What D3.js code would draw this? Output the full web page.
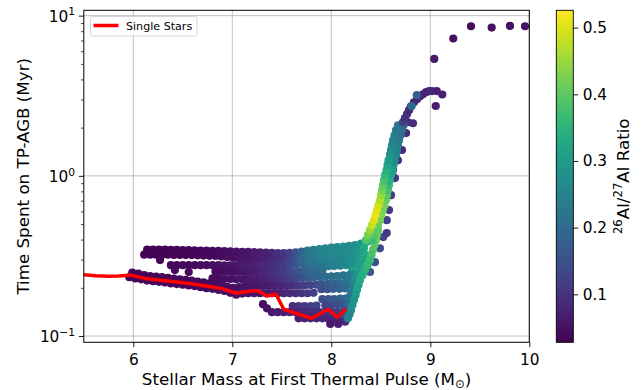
<!DOCTYPE html>
<html><head><meta charset="utf-8">
<script src="https://cdn.jsdelivr.net/npm/d3@7"></script>
<style>
body{margin:0;background:#fff;}
svg{display:block;font-family:"DejaVu Sans",sans-serif;}
</style>
</head><body>
<svg id="chart" width="644" height="390"></svg>
<script>
// ---- axis ticks ----
const xTicks = [6, 7, 8, 9, 10];
const yTicks = [0.1, 1, 10];
const yTickExponents = ["\u22121", "0", "1"];
const yMinorTicks = [0.2,0.3,0.4,0.5,0.6,0.7,0.8,0.9,2,3,4,5,6,7,8,9];
const colorTicks = [0.1, 0.2, 0.3, 0.4, 0.5];
const colorLimits = [0.028, 0.526];

// ---- single-star reference track: mass (Msun), TP-AGB time (Myr) ----
const singleStarMass = [5.50,5.62,5.75,5.85,5.97,6.12,6.30,6.57,6.88,7.04,7.13,7.26,7.35,7.44,7.52,7.80,7.97,8.06,8.15];
const singleStarTime = [0.241,0.238,0.236,0.237,0.240,0.229,0.222,0.213,0.199,0.185,0.189,0.192,0.178,0.183,0.147,0.129,0.147,0.131,0.148];

// ---- binary models: [mass at first TP, time on TP-AGB, 26Al/27Al] ----
const upperTrackTop = [[6.14,.346,.030],[6.20,.346,.030],[6.26,.346,.031],[6.32,.346,.031],[6.38,.345,.032],[6.44,.345,.032],[6.50,.344,.033],[6.56,.344,.034],[6.62,.343,.035],[6.68,.342,.036],[6.74,.341,.038],[6.80,.340,.040],[6.86,.340,.042],[6.92,.339,.045],[6.98,.338,.047],[7.04,.337,.051],[7.10,.336,.055],[7.16,.335,.059],[7.22,.334,.064],[7.28,.333,.069],[7.34,.332,.075],[7.40,.331,.082],[7.46,.330,.092],[7.52,.330,.105],[7.58,.331,.122],[7.64,.333,.150],[7.70,.337,.190],[7.76,.341,.218],[7.82,.345,.235],[7.88,.349,.248],[7.94,.353,.254],[8.00,.357,.257],[8.06,.359,.261],[8.12,.362,.265],[8.18,.365,.269],[8.24,.369,.276],[8.30,.377,.292],[8.36,.388,.320],[8.40,.400,.360]];
const upperTrackLow = [[6.11,.322,.030],[6.17,.322,.030],[6.23,.322,.031],[6.29,.322,.031],[6.35,.322,.032],[6.41,.321,.032],[6.47,.321,.033],[6.53,.320,.034],[6.59,.320,.035],[6.65,.319,.036],[6.71,.318,.037],[6.77,.317,.039],[6.83,.316,.041],[6.89,.314,.043],[6.95,.311,.046],[7.01,.308,.049],[7.07,.306,.053],[7.13,.305,.057],[7.19,.304,.061],[7.25,.303,.066],[7.31,.302,.071],[7.37,.301,.078],[7.43,.300,.086],[7.49,.300,.098],[7.55,.301,.115],[7.61,.303,.140],[7.67,.308,.175],[7.73,.314,.210],[7.79,.318,.230],[7.85,.322,.245],[7.91,.326,.255],[7.97,.330,.260],[8.03,.332,.262],[8.09,.335,.266],[8.15,.338,.270],[8.21,.341,.276],[8.27,.346,.292],[8.33,.355,.325]];
const midTrackTop = [[7.70,.296,.190],[7.76,.300,.212],[7.82,.304,.228],[7.88,.307,.240],[7.94,.309,.248],[8.00,.311,.253],[8.06,.313,.258],[8.12,.315,.263],[8.18,.318,.270],[8.24,.322,.283],[8.30,.327,.305]];
const midTrack = [[6.38,.277,.037],[6.44,.277,.038],[6.50,.277,.039],[6.56,.277,.040],[6.62,.277,.041],[6.68,.277,.043],[6.74,.277,.045],[6.80,.277,.047],[6.86,.277,.050],[6.92,.276,.053],[6.98,.276,.056],[7.04,.276,.060],[7.10,.276,.064],[7.16,.276,.068],[7.22,.276,.073],[7.28,.276,.079],[7.34,.276,.086],[7.40,.276,.094],[7.46,.276,.104],[7.52,.276,.117],[7.58,.277,.135],[7.64,.279,.160],[7.70,.282,.190],[7.76,.285,.212],[7.82,.286,.226],[7.88,.287,.236],[7.94,.288,.244],[8.00,.289,.249],[8.06,.290,.254],[8.12,.292,.261],[8.18,.294,.271],[8.24,.297,.288],[8.30,.302,.318]];
const midTrackBelow = [[7.73,.268,.195],[7.79,.270,.208],[7.85,.271,.220],[7.91,.272,.229],[7.97,.273,.237],[8.03,.274,.243],[8.09,.275,.249],[8.15,.277,.258],[8.21,.279,.272],[8.27,.282,.295]];
const midTrackLow = [[6.83,.253,.043],[6.89,.252,.045],[6.95,.252,.048],[7.01,.251,.051],[7.07,.251,.055],[7.13,.250,.059],[7.19,.250,.064],[7.25,.250,.070],[7.31,.250,.077],[7.37,.250,.085],[7.43,.250,.095],[7.49,.250,.107],[7.55,.250,.121],[7.61,.251,.140],[7.67,.252,.160],[7.73,.253,.178],[7.79,.254,.192],[7.85,.255,.202],[7.91,.256,.208],[8.21,.255,.300],[8.27,.256,.330]];
const midTrackBase = [[6.80,.229,.042],[6.86,.228,.044],[6.92,.227,.046],[6.98,.227,.049],[7.04,.226,.052],[7.10,.226,.056],[7.16,.226,.060],[7.22,.226,.065],[7.28,.226,.070],[7.34,.226,.076],[7.40,.226,.083],[7.46,.226,.092],[7.52,.227,.102],[7.58,.227,.115],[7.64,.228,.130],[7.70,.230,.148],[7.76,.231,.165],[7.82,.232,.180],[7.88,.234,.192],[7.94,.235,.200],[8.00,.236,.206],[8.06,.237,.212],[8.12,.239,.220],[8.18,.240,.235],[8.24,.242,.260],[8.30,.244,.290]];
const scatteredLeft = [[6.42,.258,.040],[6.56,.251,.041],[6.27,.298,.034]];
const lowTrackTop = [[5.99,.249,.035],[6.05,.245,.035],[6.11,.240,.035],[6.17,.237,.036],[6.23,.235,.036],[6.29,.233,.037],[6.35,.231,.037],[6.41,.228,.038],[6.47,.226,.038],[6.53,.224,.039],[6.59,.222,.039],[6.65,.219,.040],[6.71,.216,.041],[6.77,.213,.042],[6.83,.211,.043],[6.89,.207,.044],[6.95,.203,.046],[7.01,.200,.048],[7.07,.202,.050],[7.13,.204,.053],[7.19,.205,.056],[7.25,.205,.059],[7.31,.205,.062],[7.37,.205,.066],[7.43,.205,.071],[7.49,.205,.077],[7.55,.205,.084],[7.61,.206,.093],[7.67,.206,.104],[7.73,.207,.116],[7.79,.208,.128],[7.85,.209,.142],[7.91,.211,.160],[7.97,.212,.175],[8.03,.213,.185],[8.09,.214,.197],[8.15,.216,.212],[8.21,.218,.230]];
const lowTrack = [[5.96,.233,.035],[6.02,.229,.035],[6.08,.226,.035],[6.14,.222,.036],[6.20,.220,.036],[6.26,.218,.036],[6.32,.216,.037],[6.38,.213,.037],[6.44,.211,.038],[6.50,.209,.038],[6.56,.207,.039],[6.62,.205,.040],[6.68,.202,.041],[6.74,.199,.042],[6.80,.197,.043],[6.86,.194,.044],[6.92,.191,.045],[6.98,.186,.047],[7.04,.181,.049],[7.10,.184,.052],[7.16,.185,.055],[7.22,.185,.058],[7.28,.185,.061],[7.34,.185,.064],[7.40,.185,.068],[7.46,.185,.072],[7.52,.185,.077],[7.58,.185,.083],[7.64,.185,.090],[7.70,.185,.100],[7.76,.185,.110],[7.82,.186,.120],[7.90,.196,.150],[7.96,.196,.160],[8.02,.197,.170],[8.08,.197,.180],[8.14,.198,.195],[8.20,.199,.210]];
const shortTrackTop = [[7.61,.154,.090],[7.67,.154,.100],[7.73,.154,.110],[7.79,.154,.120],[7.85,.155,.130],[7.91,.170,.150],[7.97,.170,.158],[8.03,.170,.168],[8.09,.171,.178],[8.15,.172,.195],[8.21,.174,.220]];
const shortTrackMid = [[7.94,.155,.125],[8.00,.155,.135],[8.06,.156,.145],[8.12,.157,.160],[8.18,.158,.190]];
const shortTrack = [[7.40,.141,.060],[7.46,.141,.065],[7.52,.141,.070],[7.58,.141,.075],[7.64,.141,.080],[7.70,.141,.085],[7.76,.141,.090],[7.82,.141,.095],[7.88,.141,.100],[7.94,.141,.105],[8.00,.141,.110],[8.06,.141,.115],[8.12,.142,.125],[8.18,.143,.140]];
const shortTrackLow = [[7.67,.129,.070],[7.73,.129,.073],[7.79,.129,.076],[7.85,.129,.078],[7.91,.129,.080],[7.97,.128,.080],[8.03,.128,.083],[8.09,.128,.086],[8.15,.129,.092],[7.99,.119,.060],[8.07,.119,.065],[8.14,.123,.085]];
const scatteredLow = [[7.31,.158,.045],[7.35,.149,.050]];
const riseOuter = [[8.560,.529,.12],[8.525,.415,.13],[8.491,.353,.14],[8.441,.289,.15],[8.391,.251,.16],[8.603,.758,.11],[8.583,.611,.11],[8.560,.439,.11],[8.643,.968,.10],[8.623,1.085,.10],[8.673,1.25,.10],[8.714,1.45,.09],[8.755,1.85,.09],[8.774,2.16,.09],[8.825,2.13,.09]];
const riseFootInner = [[8.356,.320,.33],[8.341,.298,.32],[8.316,.277,.31],[8.290,.258,.30],[8.265,.240,.29],[8.240,.224,.27],[8.225,.208,.25],[8.209,.194,.24],[8.195,.180,.22],[8.179,.168,.21],[8.164,.156,.19],[8.149,.145,.17],[8.134,.137,.15]];
const riseFoot = [[8.471,.458,.40],[8.461,.427,.41],[8.451,.397,.41],[8.436,.370,.40],[8.421,.344,.39],[8.406,.320,.38],[8.391,.298,.37],[8.366,.277,.36],[8.340,.258,.35],[8.315,.240,.34],[8.290,.224,.33],[8.275,.208,.32],[8.259,.194,.31],[8.245,.180,.30],[8.229,.168,.29],[8.214,.156,.28],[8.199,.145,.27],[8.184,.137,.26],[8.168,.129,.25]];
const riseRight = [[8.410,.397,.37],[8.430,.427,.39],[8.451,.458,.40],[8.471,.492,.41],[8.491,.529,.42],[8.506,.569,.43],[8.521,.611,.42],[8.537,.656,.42],[8.552,.705,.41],[8.562,.758,.40],[8.572,.814,.38],[8.582,.875,.36],[8.592,.940,.34],[8.602,1.01,.32],[8.618,1.085,.31],[8.628,1.17,.29],[8.638,1.25,.27],[8.653,1.35,.26],[8.663,1.45,.25],[8.673,1.55,.24],[8.684,1.67,.23],[8.699,1.79,.22],[8.714,1.93,.21],[8.730,2.07,.20]];
const riseLeft = [[8.350,.397,.39],[8.370,.427,.42],[8.391,.458,.45],[8.411,.492,.48],[8.431,.529,.50],[8.446,.569,.51],[8.461,.611,.50],[8.477,.656,.49],[8.492,.705,.47],[8.502,.758,.45],[8.512,.814,.42],[8.522,.875,.40],[8.532,.940,.38],[8.542,1.01,.36],[8.558,1.085,.34],[8.568,1.17,.32],[8.578,1.25,.30],[8.593,1.35,.29],[8.603,1.45,.27],[8.613,1.55,.26],[8.624,1.67,.25],[8.639,1.79,.24],[8.654,1.93,.23],[8.674,2.07,.22]];
const riseTop = [[8.724,2.16,.12],[8.744,2.29,.10],[8.765,2.43,.09],[8.785,2.57,.09],[8.805,2.72,.08],[8.835,2.88,.08],[8.866,3.01,.08],[8.896,3.14,.08],[8.926,3.23,.08],[8.957,3.33,.08],[8.987,3.38,.08],[9.017,3.38,.08],[8.863,3.19,.18],[8.812,2.73,.20],[9.065,3.38,.07],[9.121,3.22,.07],[9.055,2.73,.07]];
const highMass = [[9.040,5.37,.06],[9.232,7.20,.05],[9.411,8.59,.04],[9.620,8.43,.05],[9.805,8.63,.05],[9.957,8.59,.05]];

const modelGroups = [upperTrackTop, upperTrackLow, midTrackTop, midTrack, midTrackBelow, midTrackLow,
  midTrackBase, scatteredLeft, lowTrackTop, lowTrack, shortTrackTop, shortTrackMid, shortTrack,
  shortTrackLow, scatteredLow, riseOuter, riseFootInner, riseFoot, riseRight, riseLeft, riseTop, highMass];

// ---- layout ----
const plot = {left: 83.8, right: 529.3, top: 10.3, bottom: 342.3};
const bar = {left: 556.3, right: 573.3};
const svg = d3.select("#chart");

const x = d3.scaleLinear().domain([5.5, 10]).range([plot.left, plot.right]);
const y = d3.scaleLog().domain([0.0914, 10.8]).range([plot.bottom, plot.top]);
const color = d3.scaleSequential(d3.interpolateViridis).domain(colorLimits);

svg.append("defs").append("clipPath").attr("id", "plotClip")
  .append("rect").attr("x", plot.left).attr("y", plot.top)
  .attr("width", plot.right - plot.left).attr("height", plot.bottom - plot.top);

// grid
const grid = svg.append("g").attr("stroke", "#b0b0b0").attr("stroke-width", 0.8);
grid.selectAll(".gx").data(xTicks).join("line")
  .attr("x1", d => x(d)).attr("x2", d => x(d)).attr("y1", plot.top).attr("y2", plot.bottom);
grid.selectAll(".gy").data(yTicks).join("line")
  .attr("y1", d => y(d)).attr("y2", d => y(d)).attr("x1", plot.left).attr("x2", plot.right);

// scatter
const pts = modelGroups.flat();
svg.append("g").attr("clip-path", "url(#plotClip)")
  .selectAll("circle").data(pts).join("circle")
  .attr("cx", d => x(d[0])).attr("cy", d => y(d[1])).attr("r", 4.1)
  .attr("fill", d => color(d[2]));

// single-star line
const line = d3.line().x(d => x(d[0])).y(d => y(d[1]));
svg.append("path").attr("clip-path", "url(#plotClip)")
  .datum(singleStarMass.map((m, i) => [m, singleStarTime[i]]))
  .attr("d", line).attr("fill", "none").attr("stroke", "#ff0000")
  .attr("stroke-width", 3.5).attr("stroke-linejoin", "round");

// frame
svg.append("rect").attr("x", plot.left).attr("y", plot.top)
  .attr("width", plot.right - plot.left).attr("height", plot.bottom - plot.top)
  .attr("fill", "none").attr("stroke", "#000").attr("stroke-width", 1);

// x axis
const xAxis = svg.append("g").attr("transform", `translate(0,${plot.bottom})`)
  .call(d3.axisBottom(x).tickValues(xTicks).tickSize(4.9).tickPadding(6.5).tickFormat(d3.format("d")));
xAxis.select(".domain").remove();
xAxis.selectAll("text").attr("font-size", 15.3).attr("fill", "#000").attr("font-family", "DejaVu Sans");
xAxis.selectAll("line").attr("stroke-width", 0.9);

// y axis (major with power labels, minor ticks)
const yAxis = svg.append("g").attr("transform", `translate(${plot.left},0)`)
  .call(d3.axisLeft(y).tickValues(yTicks).tickSize(4.9).tickPadding(3.8).tickFormat(() => ""));
yAxis.select(".domain").remove();
yAxis.selectAll("line").attr("stroke-width", 0.9);
yAxis.selectAll(".tick text").each(function(d, i) {
  const t = d3.select(this).attr("font-size", 15.3).attr("fill", "#000")
    .attr("font-family", "DejaVu Sans").attr("dy", "0.36em");
  t.append("tspan").text("10");
  t.append("tspan").attr("font-size", 10.7).attr("dy", -6.2).text(yTickExponents[i]);
});
const yMinor = svg.append("g").attr("transform", `translate(${plot.left},0)`)
  .call(d3.axisLeft(y).tickValues(yMinorTicks).tickSize(2.8).tickFormat(() => ""));
yMinor.select(".domain").remove();
yMinor.selectAll("line").attr("stroke-width", 0.7);

// axis titles
const xTitle = svg.append("text").attr("x", (plot.left + plot.right) / 2).attr("y", 384.5)
  .attr("text-anchor", "middle").attr("font-size", 16.7).attr("fill", "#000");
xTitle.append("tspan").text("Stellar Mass at First Thermal Pulse (M");
xTitle.append("tspan").attr("font-size", 11.7).attr("dy", 3.2).text("\u2299");
xTitle.append("tspan").attr("dy", -3.2).text(")");

svg.append("text").attr("transform", `translate(28.8,${(plot.top + plot.bottom) / 2}) rotate(-90)`)
  .attr("text-anchor", "middle").attr("font-size", 16.7).attr("fill", "#000")
  .text("Time Spent on TP-AGB (Myr)");

// legend
const lg = svg.append("g");
lg.append("rect").attr("x", 90.5).attr("y", 16.5).attr("width", 106.5).attr("height", 19.5)
  .attr("rx", 2.5).attr("fill", "#fff").attr("fill-opacity", 0.8)
  .attr("stroke", "#cccccc").attr("stroke-width", 0.8);
lg.append("line").attr("x1", 93.5).attr("x2", 118.5).attr("y1", 25.5).attr("y2", 25.5)
  .attr("stroke", "#ff0000").attr("stroke-width", 3.5);
lg.append("text").attr("x", 126).attr("y", 29.6).attr("font-size", 11.1).attr("fill", "#000")
  .text("Single Stars");

// colorbar
const cScale = d3.scaleLinear().domain(colorLimits).range([plot.bottom, plot.top]);
const grad = svg.select("defs").append("linearGradient").attr("id", "viridisBar")
  .attr("x1", 0).attr("y1", 1).attr("x2", 0).attr("y2", 0);
d3.range(0, 1.0001, 0.05).forEach(t => {
  grad.append("stop").attr("offset", t).attr("stop-color", d3.interpolateViridis(t));
});
svg.append("rect").attr("x", bar.left).attr("y", plot.top)
  .attr("width", bar.right - bar.left).attr("height", plot.bottom - plot.top)
  .attr("fill", "url(#viridisBar)").attr("stroke", "#000").attr("stroke-width", 0.9);
const cAxis = svg.append("g").attr("transform", `translate(${bar.right},0)`)
  .call(d3.axisRight(cScale).tickValues(colorTicks).tickSize(4.9).tickPadding(4.5).tickFormat(d3.format(".1f")));
cAxis.select(".domain").remove();
cAxis.selectAll("line").attr("stroke-width", 0.9);
cAxis.selectAll("text").attr("font-size", 15.3).attr("fill", "#000").attr("font-family", "DejaVu Sans");

const cTitle = svg.append("text")
  .attr("transform", `translate(628.5,${(plot.top + plot.bottom) / 2}) rotate(-90)`)
  .attr("text-anchor", "middle").attr("font-size", 16.7).attr("fill", "#000");
cTitle.append("tspan").attr("font-size", 11.7).attr("dy", -6.5).text("26");
cTitle.append("tspan").attr("dy", 6.5).text("Al/");
cTitle.append("tspan").attr("font-size", 11.7).attr("dy", -6.5).text("27");
cTitle.append("tspan").attr("dy", 6.5).text("Al Ratio");
</script>
</body></html>
